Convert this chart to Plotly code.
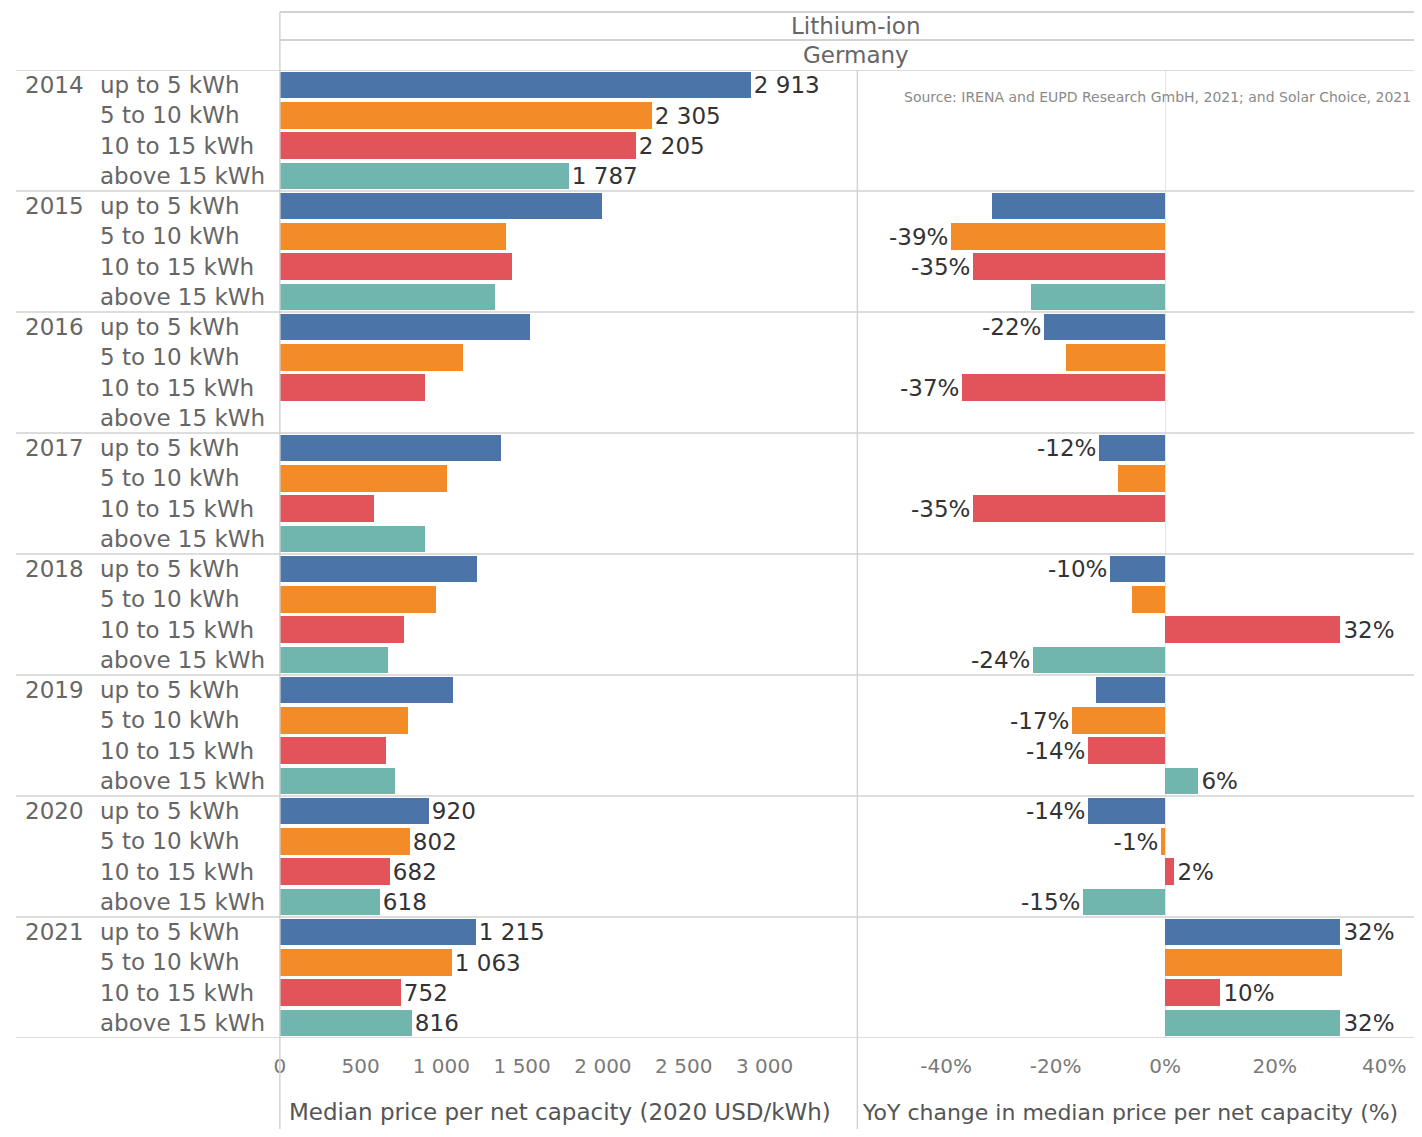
import plotly.graph_objects as go

# page body has an 8px margin, so the figure is drawn a bit smaller and offset
OFF = 8
FW, FH = 1414, 1121

years = ["2014", "2015", "2016", "2017", "2018", "2019", "2020", "2021"]
classes = ["up to 5 kWh", "5 to 10 kWh", "10 to 15 kWh", "above 15 kWh"]
colors = ["#4b74a9", "#f38b26", "#e2535a", "#70b5ae"]

# median price per net capacity (2020 USD/kWh), one list per size class
price_up_to_5 = [2913, 1995, 1550, 1366, 1219, 1071, 920, 1215]
price_5_to_10 = [2305, 1400, 1130, 1034, 967, 794, 802, 1063]
price_10_to_15 = [2205, 1438, 899, 579, 770, 659, 682, 752]
price_above_15 = [1787, 1330, None, 899, 671, 714, 618, 816]
price_label_years = ["2014", "2020", "2021"]

# YoY change in median price (%)
yoy_up_to_5 = [None, -31.5, -22, -12, -10, -12.5, -14, 32]
yoy_5_to_10 = [None, -39, -18, -8.5, -6, -17, -0.7, 32.4]
yoy_10_to_15 = [None, -35, -37, -35, 32, -14, 1.6, 10]
yoy_above_15 = [None, -24.5, None, None, -24, 6, -15, 32]
yoy_label_years = [
    ["2016", "2017", "2018", "2020", "2021"],
    ["2015", "2019", "2020"],
    ["2015", "2016", "2017", "2018", "2019", "2020", "2021"],
    ["2018", "2019", "2020", "2021"],
]

price_ticks = [0, 500, 1000, 1500, 2000, 2500, 3000]
yoy_ticks = [-40, -20, 0, 20, 40]

prices = [price_up_to_5, price_5_to_10, price_10_to_15, price_above_15]
yoys = [yoy_up_to_5, yoy_5_to_10, yoy_10_to_15, yoy_above_15]

FONT = "DejaVu Sans"
GRAY = "#666666"
LINE = "#d2d2d2"


def px_x(p):
    return (p - OFF) / FW


def px_y(p):
    return 1 - (p - OFF) / FH


def fmt_thousands(v):
    return f"{v:,}".replace(",", " ")


fig = go.Figure()

for ci, cls in enumerate(classes):
    rows = [yi * 4 + ci for yi in range(len(years))]
    p_text = [fmt_thousands(v) if (years[i] in price_label_years and v is not None) else ""
              for i, v in enumerate(prices[ci])]
    fig.add_trace(go.Bar(
        y=rows, x=prices[ci], orientation="h", name=cls,
        marker=dict(color=colors[ci], line=dict(width=0)),
        width=0.88, text=p_text, textposition="outside", constraintext="none",
        cliponaxis=False, textfont=dict(family=FONT, size=23, color="#333333"),
        xaxis="x", yaxis="y", showlegend=False,
    ))
    y_text = [f"{v:.0f}%" if (years[i] in yoy_label_years[ci] and v is not None) else ""
              for i, v in enumerate(yoys[ci])]
    fig.add_trace(go.Bar(
        y=rows, x=yoys[ci], orientation="h", name=cls,
        marker=dict(color=colors[ci], line=dict(width=0)),
        width=0.88, text=y_text, textposition="outside", constraintext="none",
        cliponaxis=False, textfont=dict(family=FONT, size=23, color="#333333"),
        xaxis="x2", yaxis="y", showlegend=False,
    ))

annotations = []
# row headers
for yi, yr in enumerate(years):
    annotations.append(dict(x=px_x(17), y=yi * 4, xref="paper", yref="y", text=yr,
                            xanchor="left", yanchor="middle", showarrow=False,
                            font=dict(family=FONT, size=23, color=GRAY)))
    for ci, cls in enumerate(classes):
        annotations.append(dict(x=px_x(92), y=yi * 4 + ci, xref="paper", yref="y", text=cls,
                                xanchor="left", yanchor="middle", showarrow=False,
                                font=dict(family=FONT, size=23, color=GRAY)))

# column headers
annotations.append(dict(x=px_x(854), y=px_y(26), xref="paper", yref="paper", text="Lithium-ion",
                        xanchor="center", yanchor="middle",
                        showarrow=False, font=dict(family=FONT, size=23, color=GRAY)))
annotations.append(dict(x=px_x(854), y=px_y(55), xref="paper", yref="paper", text="Germany",
                        xanchor="center", yanchor="middle",
                        showarrow=False, font=dict(family=FONT, size=23, color=GRAY)))
annotations.append(dict(x=px_x(1156), y=px_y(97), xref="paper", yref="paper",
                        text="Source: IRENA and EUPD Research GmbH, 2021; and Solar Choice, 2021",
                        xanchor="center", yanchor="middle",
                        showarrow=False, font=dict(family=FONT, size=14, color="#8a8a8a")))

# axis titles
annotations.append(dict(x=px_x(282), y=px_y(1112), xref="paper", yref="paper",
                        text="Median price per net capacity (2020 USD/kWh)",
                        xanchor="left", yanchor="middle",
                        showarrow=False, font=dict(family=FONT, size=23, color="#555555")))
annotations.append(dict(x=px_x(858), y=px_y(1112), xref="paper", yref="paper",
                        text="YoY change in median price per net capacity (%)",
                        xanchor="left", yanchor="middle",
                        showarrow=False, font=dict(family=FONT, size=22, color="#555555")))

shapes = []
# year separators
for k in range(len(years) + 1):
    shapes.append(dict(type="line", xref="paper", yref="y", x0=px_x(10), x1=1,
                       y0=k * 4 - 0.5, y1=k * 4 - 0.5, line=dict(color=LINE, width=1.5)))
# header lines
for py in (12, 40):
    shapes.append(dict(type="line", xref="paper", yref="paper", x0=px_x(275), x1=1,
                       y0=px_y(py), y1=px_y(py), line=dict(color=LINE, width=2)))
# vertical panel borders
shapes.append(dict(type="line", xref="paper", yref="paper", x0=px_x(275), x1=px_x(275),
                   y0=px_y(12), y1=0, line=dict(color=LINE, width=1.5)))
shapes.append(dict(type="line", xref="paper", yref="paper", x0=px_x(855), x1=px_x(855),
                   y0=px_y(70), y1=0, line=dict(color=LINE, width=1.5)))

fig.update_layout(
    width=FW, height=FH, autosize=False,
    margin=dict(l=0, r=0, t=0, b=0),
    paper_bgcolor="white", plot_bgcolor="white",
    barmode="overlay", bargap=0,
    font=dict(family=FONT, size=19, color=GRAY),
    xaxis=dict(domain=[px_x(275), px_x(855)], range=[0, 3575], anchor="y",
               tickvals=price_ticks, ticktext=[fmt_thousands(v) for v in price_ticks],
               showgrid=False, zeroline=False, showline=False, ticks="",
               ticklabelstandoff=14, tickfont=dict(family=FONT, size=20, color="#7a7a7a")),
    xaxis2=dict(domain=[px_x(855), px_x(1422)], range=[-56.2, 46.9], anchor="y",
                tickvals=yoy_ticks, ticktext=[f"{v}%" for v in yoy_ticks],
                showgrid=False, zeroline=True, zerolinecolor="#e4e4e4", zerolinewidth=1,
                showline=False, ticks="",
                ticklabelstandoff=14, tickfont=dict(family=FONT, size=20, color="#7a7a7a")),
    yaxis=dict(domain=[px_y(1038), px_y(70)], range=[31.5, -0.5], showticklabels=False,
               showgrid=False, zeroline=False, showline=False, ticks=""),
    annotations=annotations,
    shapes=shapes,
)

fig.write_html("out.html")
